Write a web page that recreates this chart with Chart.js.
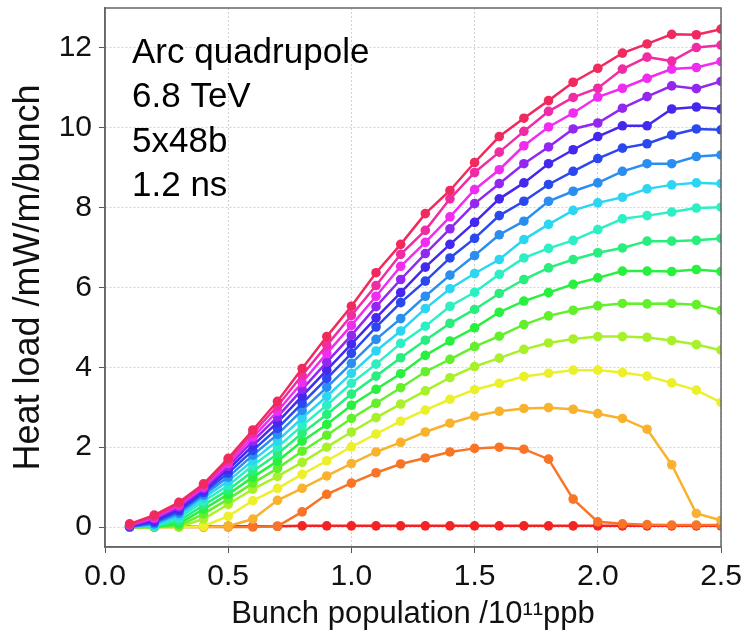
<!DOCTYPE html>
<html>
<head>
<meta charset="utf-8">
<script src="https://cdn.jsdelivr.net/npm/chart.js@4.4.0/dist/chart.umd.min.js"></script>
<style>
  html, body { margin: 0; padding: 0; background: #fff; }
</style>
</head>
<body>
<canvas id="heat-chart" width="745" height="633"></canvas>
<script>
'use strict';

// Data ********** //
let population = [0.1, 0.2, 0.3, 0.4, 0.5, 0.6, 0.7, 0.8, 0.9, 1.0, 1.1, 1.2, 1.3,
  1.4, 1.5, 1.6, 1.7, 1.8, 1.9, 2.0, 2.1, 2.2, 2.3, 2.4, 2.5];
let xTicks = [0, 0.5, 1.0, 1.5, 2.0, 2.5];
let yTicks = [0, 2, 4, 6, 8, 10, 12];
let noteLines = ['Arc quadrupole', '6.8 TeV', '5x48b', '1.2 ns'];

// heat load per bunch, one list per curve (bottom curve first)
let load1 = [0, 0.02, 0.02, 0.02, 0.02, 0.02, 0.02, 0.03, 0.03, 0.03, 0.03, 0.03, 0.03, 0.03, 0.03, 0.03, 0.03, 0.03, 0.03, 0.03, 0.03, 0.03, 0.03, 0.03, 0.03];
let load2 = [0, 0, 0, 0, 0, 0, 0.02, 0.38, 0.82, 1.1, 1.36, 1.58, 1.73, 1.88, 1.97, 2.0, 1.95, 1.7, 0.7, 0.13, 0.08, 0.06, 0.05, 0.05, 0.05];
let load3 = [0, 0, 0, 0, 0.02, 0.2, 0.67, 0.97, 1.28, 1.59, 1.88, 2.12, 2.38, 2.6, 2.78, 2.9, 2.97, 2.99, 2.95, 2.84, 2.72, 2.45, 1.56, 0.34, 0.17];
let load4 = [0, 0, 0, 0.02, 0.27, 0.66, 0.97, 1.32, 1.66, 2.01, 2.33, 2.65, 2.93, 3.2, 3.44, 3.6, 3.77, 3.85, 3.93, 3.93, 3.87, 3.78, 3.61, 3.43, 3.12];
let load5 = [0, 0, 0.01, 0.2, 0.57, 0.95, 1.27, 1.62, 2.0, 2.38, 2.74, 3.08, 3.41, 3.74, 4.02, 4.23, 4.45, 4.61, 4.71, 4.77, 4.77, 4.75, 4.67, 4.57, 4.43];
let load6 = [0, 0, 0.03, 0.33, 0.7, 1.1, 1.47, 1.9, 2.3, 2.72, 3.1, 3.49, 3.89, 4.2, 4.52, 4.78, 5.07, 5.29, 5.43, 5.54, 5.6, 5.59, 5.6, 5.57, 5.43];
let load7 = [0, 0, 0.08, 0.45, 0.82, 1.25, 1.65, 2.15, 2.57, 3.05, 3.45, 3.84, 4.3, 4.66, 4.99, 5.38, 5.66, 5.87, 6.08, 6.24, 6.41, 6.41, 6.4, 6.45, 6.4];
let load8 = [0, 0.01, 0.15, 0.55, 0.93, 1.4, 1.83, 2.35, 2.82, 3.33, 3.78, 4.24, 4.68, 5.1, 5.45, 5.85, 6.2, 6.49, 6.7, 6.87, 6.99, 7.16, 7.16, 7.18, 7.23];
let load9 = [0, 0.02, 0.22, 0.65, 1.04, 1.54, 2.0, 2.54, 3.05, 3.6, 4.08, 4.6, 5.03, 5.53, 5.88, 6.33, 6.74, 6.98, 7.18, 7.45, 7.72, 7.8, 7.89, 7.99, 8.01];
let load10 = [0, 0.05, 0.28, 0.73, 1.15, 1.67, 2.16, 2.73, 3.27, 3.85, 4.41, 4.91, 5.47, 5.97, 6.35, 6.7, 7.2, 7.58, 7.93, 8.12, 8.26, 8.47, 8.57, 8.62, 8.6];
let load11 = [0, 0.08, 0.34, 0.8, 1.25, 1.8, 2.32, 2.92, 3.5, 4.1, 4.7, 5.22, 5.78, 6.31, 6.8, 7.32, 7.66, 8.16, 8.41, 8.62, 8.91, 9.1, 9.1, 9.28, 9.32];
let load12 = [0.01, 0.12, 0.4, 0.86, 1.35, 1.92, 2.47, 3.1, 3.72, 4.35, 5.01, 5.62, 6.16, 6.74, 7.23, 7.8, 8.16, 8.58, 8.91, 9.23, 9.49, 9.6, 9.82, 9.97, 9.95];
let load13 = [0.02, 0.16, 0.45, 0.91, 1.44, 2.04, 2.62, 3.28, 3.93, 4.58, 5.24, 5.87, 6.51, 7.08, 7.63, 8.22, 8.62, 9.1, 9.45, 9.78, 10.05, 10.05, 10.47, 10.52, 10.47];
let load14 = [0.03, 0.2, 0.5, 0.96, 1.52, 2.15, 2.76, 3.45, 4.13, 4.8, 5.52, 6.2, 6.85, 7.47, 8.1, 8.6, 9.1, 9.52, 9.97, 10.12, 10.49, 10.78, 11.05, 10.98, 11.16];
let load15 = [0.05, 0.23, 0.54, 1.0, 1.59, 2.25, 2.9, 3.62, 4.35, 5.05, 5.78, 6.53, 7.13, 7.77, 8.45, 8.95, 9.55, 10.02, 10.37, 10.77, 10.99, 11.24, 11.47, 11.51, 11.66];
let load16 = [0.06, 0.27, 0.58, 1.04, 1.66, 2.35, 3.03, 3.8, 4.55, 5.3, 6.05, 6.83, 7.43, 8.22, 8.88, 9.39, 9.91, 10.41, 10.76, 10.99, 11.47, 11.77, 11.67, 12.01, 12.07];
let load17 = [0.08, 0.3, 0.62, 1.08, 1.72, 2.43, 3.15, 3.97, 4.77, 5.53, 6.37, 7.08, 7.85, 8.43, 9.13, 9.78, 10.24, 10.68, 11.14, 11.49, 11.87, 12.1, 12.34, 12.33, 12.47];

let allLoads = [load1, load2, load3, load4, load5, load6, load7, load8, load9,
  load10, load11, load12, load13, load14, load15, load16, load17];

// Styles ********** //
let lineColors = ['#f42222', '#f87426', '#f8b22e', '#ecf02a', '#a8f02a', '#62f02a',
  '#28f03e', '#28ee7e', '#2cf0c4', '#2cd6f2', '#2a8ef0', '#2a48ee', '#4428ee',
  '#9228f0', '#f02cf0', '#f02ca4', '#f02a5e'];
let tickFont = { family: '"Liberation Sans Narrow", "Liberation Sans", Arial, sans-serif', size: 30 };

// the text box in the upper left corner + the frame round the plot
let notesPlugin = {
  id: 'notes',
  afterDraw(chart) {
    let c = chart.ctx;
    let area = chart.chartArea;
    c.save();
    c.strokeStyle = '#666';
    c.lineWidth = 1.5;
    c.strokeRect(area.left, area.top, area.right - area.left, area.bottom - area.top);
    c.fillStyle = '#000';
    c.font = '35px "Liberation Sans", Arial, sans-serif';
    c.textBaseline = 'alphabetic';
    for (let i = 0; i < noteLines.length; i++) {
      c.fillText(noteLines[i], area.left + 27, area.top + 55 + i * 44.3);
    }
    c.restore();
  }
};

let datasets = [];
for (let i = 0; i < allLoads.length; i++) {
  datasets.push({
    data: population.map((x, j) => ({ x: x, y: allLoads[i][j] })),
    borderColor: lineColors[i],
    backgroundColor: lineColors[i],
    borderWidth: 2.5,
    pointRadius: 4.8,
    pointBorderWidth: 0,
    tension: 0,
    order: allLoads.length - i // upper curves drawn on top
  });
}

let chartObj = {
  type: 'line',
  data: { datasets: datasets },
  plugins: [notesPlugin],
  options: {
    responsive: false,
    animation: false,
    devicePixelRatio: 1,
    layout: { padding: { top: 8, right: 24, left: 0, bottom: 0 } },
    plugins: { legend: { display: false }, tooltip: { enabled: false } },
    scales: {
      x: {
        type: 'linear',
        min: 0,
        max: 2.5,
        afterBuildTicks: (s) => { s.ticks = xTicks.map(v => ({ value: v })); },
        afterFit: (s) => { s.height = 86; s.paddingLeft = 0; s.paddingRight = 0; },
        grid: { color: '#d2d2d2', tickColor: '#555', tickLength: 6 },
        border: { color: '#666', width: 1.5, dash: [2, 2] },
        ticks: {
          callback: (v) => v.toFixed(1),
          font: tickFont, color: '#111', padding: 6, maxRotation: 0, autoSkip: false
        },
        title: {
          display: true,
          text: 'Bunch population /10¹¹ppb',
          font: { family: tickFont.family, size: 31 },
          color: '#111',
          padding: { top: 0, bottom: 0 }
        }
      },
      y: {
        min: -0.5,
        max: 13,
        afterBuildTicks: (s) => { s.ticks = yTicks.map(v => ({ value: v })); },
        afterFit: (s) => { s.width = 105; s.paddingTop = 0; s.paddingBottom = 0; },
        grid: { color: '#d2d2d2', tickColor: '#555', tickLength: 6 },
        border: { color: '#666', width: 1.5, dash: [2, 2] },
        ticks: { font: tickFont, color: '#111', padding: 7 },
        title: {
          display: true,
          text: 'Heat load /mW/m/bunch',
          font: { family: '"Liberation Sans", Arial, sans-serif', size: 36 },
          color: '#111',
          padding: { top: 7, bottom: 0 }
        }
      }
    }
  }
};

new Chart(document.getElementById('heat-chart'), chartObj);
</script>
</body>
</html>
